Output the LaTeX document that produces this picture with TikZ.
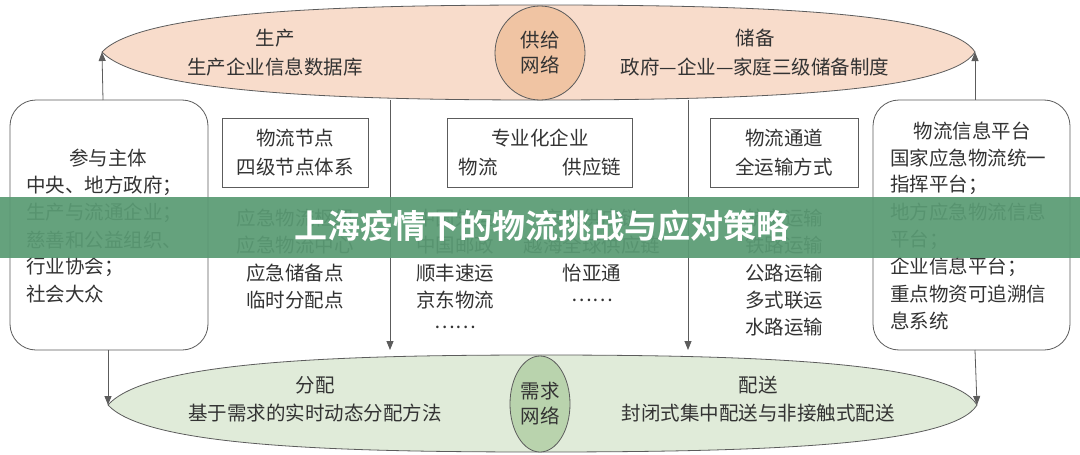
\documentclass[tikz,border=0pt]{standalone}
\usepackage{fontspec}
\setmainfont{Noto Sans CJK SC}
\newfontfamily\boldcjk{Noto Sans CJK SC Bold}
\usetikzlibrary{arrows.meta,shapes.geometric}
\definecolor{peach}{HTML}{F8DCCB}
\definecolor{peachd}{HTML}{F0C4A3}
\definecolor{sage}{HTML}{E0EBD9}
\definecolor{saged}{HTML}{B9D3AD}
\definecolor{ink}{HTML}{333333}
\definecolor{banner}{HTML}{5A9B74}
\tikzset{
  txt/.style={text=ink,font=\fontsize{19.5}{22}\selectfont,inner sep=0pt},
  ltxt/.style={txt,anchor=west},
  bx/.style={draw=ink!80,line width=0.8pt},
  arr/.style={draw=ink!80,line width=0.8pt,-{Triangle[length=9pt,width=7pt]}},
}
\begin{document}
\begin{tikzpicture}[x=1pt,y=-1pt]
\useasboundingbox (0,0) rectangle (1080,455);
\fill[white] (0,0) rectangle (1080,455);
% top lens
\coordinate (tl) at (102,52);
\coordinate (tr) at (975,52);
\filldraw[fill=peach,draw=ink!80,line width=0.8pt] (tl) .. controls (140,12) and (330,5) .. (540,5) .. controls (760,5) and (950,12) .. (tr) .. controls (950,92) and (760,100) .. (540,100) .. controls (330,100) and (140,92) .. (tl);
\node[ellipse,draw=ink!80,fill=peachd,minimum width=90pt,minimum height=94pt,line width=0.8pt] (sup) at (540,53) {};
\node[txt,align=center] at (540,53) {供给\\[3pt]网络};
\node[txt] at (275,38) {生产};
\node[txt] at (275,67) {生产企业信息数据库};
\node[txt] at (755,38) {储备};
\node[txt] at (755,67) {政府—企业—家庭三级储备制度};
% bottom lens
\coordinate (bl) at (108,405);
\coordinate (br) at (977,405);
\filldraw[fill=sage,draw=ink!80,line width=0.8pt] (bl) .. controls (146,362) and (330,355) .. (540,355) .. controls (760,355) and (952,362) .. (br) .. controls (952,446) and (760,452) .. (540,452) .. controls (330,452) and (146,446) .. (bl);
\node[ellipse,draw=ink!80,fill=saged,minimum width=60pt,minimum height=96pt,line width=0.8pt] (dem) at (540,404) {};
\node[txt,align=center] at (540,404) {需求\\[3pt]网络};
\node[txt] at (315,385) {分配};
\node[txt] at (315,413) {基于需求的实时动态分配方法};
\node[txt] at (758,385) {配送};
\node[txt] at (758,413) {封闭式集中配送与非接触式配送};
% side boxes
\draw[bx,rounded corners=26pt] (10,100) rectangle (208,350);
\coordinate (lbt) at (103,100); \coordinate (lbb) at (108,350);
\node[txt] at (108,158) {参与主体};
\node[ltxt] at (26,186) {中央、地方政府；};
\node[ltxt] at (26,213) {生产与流通企业；};
\node[ltxt] at (26,240) {慈善和公益组织、};
\node[ltxt] at (26,267) {行业协会；};
\node[ltxt] at (26,294) {社会大众};
\draw[bx,rounded corners=26pt] (873,100) rectangle (1070,350);
\coordinate (rbt) at (975,100); \coordinate (rbb) at (975,350);
\node[txt] at (972,131) {物流信息平台};
\node[ltxt] at (890,158) {国家应急物流统一};
\node[ltxt] at (890,185) {指挥平台；};
\node[ltxt] at (890,212) {地方应急物流信息};
\node[ltxt] at (890,240) {平台；};
\node[ltxt] at (890,267) {企业信息平台；};
\node[ltxt] at (890,294) {重点物资可追溯信};
\node[ltxt] at (890,321) {息系统};
\draw[arr] (lbt) -- (tl);
\draw[arr] (rbt) -- (tr);
\draw[arr] (lbb) -- (bl);
\draw[arr] (rbb) -- (br);
% dividers
\coordinate (d1a) at (390,100); \coordinate (d1b) at (390,350);
\coordinate (d2a) at (688,100); \coordinate (d2b) at (688,350);
\draw[arr] (d1a) -- (d1b);
\draw[arr] (d2a) -- (d2b);
% inner boxes
\draw[bx] (222,118) rectangle (368,187);
\node[txt] at (295,138) {物流节点};
\node[txt] at (295,167) {四级节点体系};
\node[txt] at (295,218) {应急物流枢纽};
\node[txt] at (295,245) {应急物流中心};
\node[txt] at (295,273) {应急储备点};
\node[txt] at (295,300) {临时分配点};
\draw[bx] (447,118) rectangle (632,187);
\node[txt] at (540,138) {专业化企业};
\node[txt] at (478,167) {物流};
\node[txt] at (592,167) {供应链};
\node[txt] at (455,218) {中国外运};
\node[txt] at (455,245) {中国邮政};
\node[txt] at (455,273) {顺丰速运};
\node[txt] at (455,300) {京东物流};
\node[txt] at (455,327) {……};
\node[txt] at (592,218) {京东供应链};
\node[txt] at (592,245) {越海全球供应链};
\node[txt] at (592,273) {怡亚通};
\node[txt] at (592,300) {……};
\draw[bx] (710,118) rectangle (858,187);
\node[txt] at (784,138) {物流通道};
\node[txt] at (784,167) {全运输方式};
\node[txt] at (784,218) {航空运输};
\node[txt] at (784,245) {铁路运输};
\node[txt] at (784,273) {公路运输};
\node[txt] at (784,300) {多式联运};
\node[txt] at (784,327) {水路运输};
% banner
\fill[banner,opacity=0.93] (0,197) rectangle (1080,258);
\node[text=white,font=\boldcjk\fontsize{33}{36}\selectfont,inner sep=0pt] (title) at (542,226) {上海疫情下的物流挑战与应对策略};
\end{tikzpicture}
\end{document}
